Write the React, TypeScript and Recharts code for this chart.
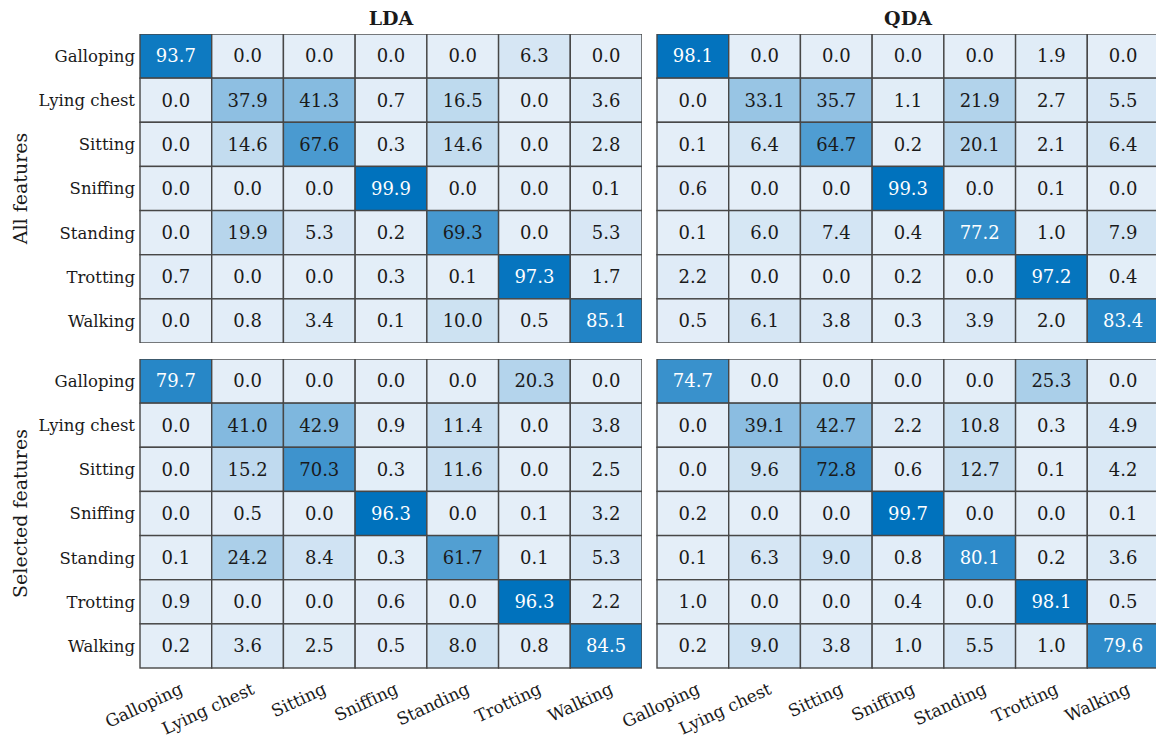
import { ScatterChart, Scatter, XAxis, YAxis } from 'recharts'

// activity classes, used for both rows (true) and columns (predicted)
const CLASSES = ['Galloping', 'Lying chest', 'Sitting', 'Sniffing', 'Standing', 'Trotting', 'Walking']

// confusion matrices in percent, row = true class
const LDA_ALL = [
  [93.7, 0.0, 0.0, 0.0, 0.0, 6.3, 0.0],
  [0.0, 37.9, 41.3, 0.7, 16.5, 0.0, 3.6],
  [0.0, 14.6, 67.6, 0.3, 14.6, 0.0, 2.8],
  [0.0, 0.0, 0.0, 99.9, 0.0, 0.0, 0.1],
  [0.0, 19.9, 5.3, 0.2, 69.3, 0.0, 5.3],
  [0.7, 0.0, 0.0, 0.3, 0.1, 97.3, 1.7],
  [0.0, 0.8, 3.4, 0.1, 10.0, 0.5, 85.1]
]
const QDA_ALL = [
  [98.1, 0.0, 0.0, 0.0, 0.0, 1.9, 0.0],
  [0.0, 33.1, 35.7, 1.1, 21.9, 2.7, 5.5],
  [0.1, 6.4, 64.7, 0.2, 20.1, 2.1, 6.4],
  [0.6, 0.0, 0.0, 99.3, 0.0, 0.1, 0.0],
  [0.1, 6.0, 7.4, 0.4, 77.2, 1.0, 7.9],
  [2.2, 0.0, 0.0, 0.2, 0.0, 97.2, 0.4],
  [0.5, 6.1, 3.8, 0.3, 3.9, 2.0, 83.4]
]
const LDA_SEL = [
  [79.7, 0.0, 0.0, 0.0, 0.0, 20.3, 0.0],
  [0.0, 41.0, 42.9, 0.9, 11.4, 0.0, 3.8],
  [0.0, 15.2, 70.3, 0.3, 11.6, 0.0, 2.5],
  [0.0, 0.5, 0.0, 96.3, 0.0, 0.1, 3.2],
  [0.1, 24.2, 8.4, 0.3, 61.7, 0.1, 5.3],
  [0.9, 0.0, 0.0, 0.6, 0.0, 96.3, 2.2],
  [0.2, 3.6, 2.5, 0.5, 8.0, 0.8, 84.5]
]
const QDA_SEL = [
  [74.7, 0.0, 0.0, 0.0, 0.0, 25.3, 0.0],
  [0.0, 39.1, 42.7, 2.2, 10.8, 0.3, 4.9],
  [0.0, 9.6, 72.8, 0.6, 12.7, 0.1, 4.2],
  [0.2, 0.0, 0.0, 99.7, 0.0, 0.0, 0.1],
  [0.1, 6.3, 9.0, 0.8, 80.1, 0.2, 3.6],
  [1.0, 0.0, 0.0, 0.4, 0.0, 98.1, 0.5],
  [0.2, 9.0, 3.8, 1.0, 5.5, 1.0, 79.6]
]

const FONT = 'DejaVu Serif'
const PLOT_W = 502
const PLOT_H = 309
const CELL_W = PLOT_W / 7
const CELL_H = PLOT_H / 7
const Y_AXIS_W = 140
const X_AXIS_H = 80
const PAD_L = 70

const LIGHT = [228, 238, 248]
const DARK = [0, 114, 189]

const cellColor = (t: number) => {
  const c = LIGHT.map((l, i) => Math.round(l + (DARK[i] - l) * t))
  return `rgb(${c[0]},${c[1]},${c[2]})`
}

const toPoints = (m: number[][]) => {
  const max = Math.max(...m.flat())
  const pts: { x: number; y: number; v: number; t: number }[] = []
  m.forEach((row, r) => row.forEach((v, c) => pts.push({ x: c, y: r, v, t: v / max })))
  return pts
}

const Cell = (props: any) => {
  const { cx, cy, payload } = props
  const t = payload.t
  return (
    <g>
      <rect
        x={cx - CELL_W / 2}
        y={cy - CELL_H / 2}
        width={CELL_W}
        height={CELL_H}
        fill={cellColor(t)}
        stroke='#474747'
        strokeWidth={1.4}
      />
      <text
        x={cx}
        y={cy}
        dy='0.35em'
        textAnchor='middle'
        fontSize={18}
        fontFamily={FONT}
        fill={payload.v > 73 ? '#ffffff' : '#1a1a1a'}
      >
        {payload.v.toFixed(1)}
      </text>
    </g>
  )
}

const XTick = (props: any) => {
  const { x, y, payload } = props
  const ax = x + 8
  const ay = y + 17
  return (
    <text
      x={ax}
      y={ay}
      transform={`rotate(-25 ${ax} ${ay})`}
      textAnchor='end'
      fontSize={17}
      fontFamily={FONT}
      fill='#1a1a1a'
    >
      {CLASSES[payload.value]}
    </text>
  )
}

const Panel = ({ data, left, top, showY, showX }: any) => {
  const padL = showY ? Y_AXIS_W : PAD_L
  const width = PLOT_W + padL
  const height = PLOT_H + (showX ? X_AXIS_H : 0)
  return (
    <div style={{ position: 'absolute', left: left - padL, top }}>
      <ScatterChart
        width={width}
        height={height}
        margin={{ top: 0, right: 0, bottom: 0, left: showY ? 0 : PAD_L }}
      >
        <XAxis
          type='number'
          dataKey='x'
          domain={[-0.5, 6.5]}
          ticks={[0, 1, 2, 3, 4, 5, 6]}
          hide={!showX}
          height={X_AXIS_H}
          axisLine={false}
          tickLine={false}
          tick={<XTick />}
          interval={0}
        />
        <YAxis
          type='number'
          dataKey='y'
          domain={[-0.5, 6.5]}
          reversed
          ticks={[0, 1, 2, 3, 4, 5, 6]}
          hide={!showY}
          width={Y_AXIS_W}
          axisLine={false}
          tickLine={false}
          tickSize={0}
          tickMargin={5}
          interval={0}
          tickFormatter={(v: number) => CLASSES[v]}
          tick={{ fontSize: 16.5, fill: '#1a1a1a', fontFamily: FONT }}
        />
        <Scatter data={toPoints(data)} shape={<Cell />} isAnimationActive={false} />
      </ScatterChart>
    </div>
  )
}

const App = () => {
  const leftX = 140
  const rightX = 657
  const topY = 34
  const bottomY = 359
  return (
    <div
      style={{
        position: 'absolute',
        left: 0,
        top: 0,
        width: 1156,
        height: 742,
        overflow: 'hidden',
        background: '#fff',
        fontFamily: FONT
      }}
    >
      <Panel data={LDA_ALL} left={leftX} top={topY} showY />
      <Panel data={QDA_ALL} left={rightX} top={topY} />
      <Panel data={LDA_SEL} left={leftX} top={bottomY} showY showX />
      <Panel data={QDA_SEL} left={rightX} top={bottomY} showX />
      <svg width={1156} height={742} style={{ position: 'absolute', left: 0, top: 0, pointerEvents: 'none' }}>
        <text x={leftX + PLOT_W / 2} y={25} textAnchor='middle' fontSize={19} fontWeight='bold' fontFamily={FONT} fill='#1a1a1a'>
          LDA
        </text>
        <text x={rightX + PLOT_W / 2} y={25} textAnchor='middle' fontSize={19} fontWeight='bold' fontFamily={FONT} fill='#1a1a1a'>
          QDA
        </text>
        <text
          x={27}
          y={topY + PLOT_H / 2}
          transform={`rotate(-90 27 ${topY + PLOT_H / 2})`}
          textAnchor='middle'
          fontSize={19}
          fontFamily={FONT}
          fill='#1a1a1a'
        >
          All features
        </text>
        <text
          x={27}
          y={bottomY + PLOT_H / 2}
          transform={`rotate(-90 27 ${bottomY + PLOT_H / 2})`}
          textAnchor='middle'
          fontSize={19}
          fontFamily={FONT}
          fill='#1a1a1a'
        >
          Selected features
        </text>
      </svg>
    </div>
  )
}

export default App
